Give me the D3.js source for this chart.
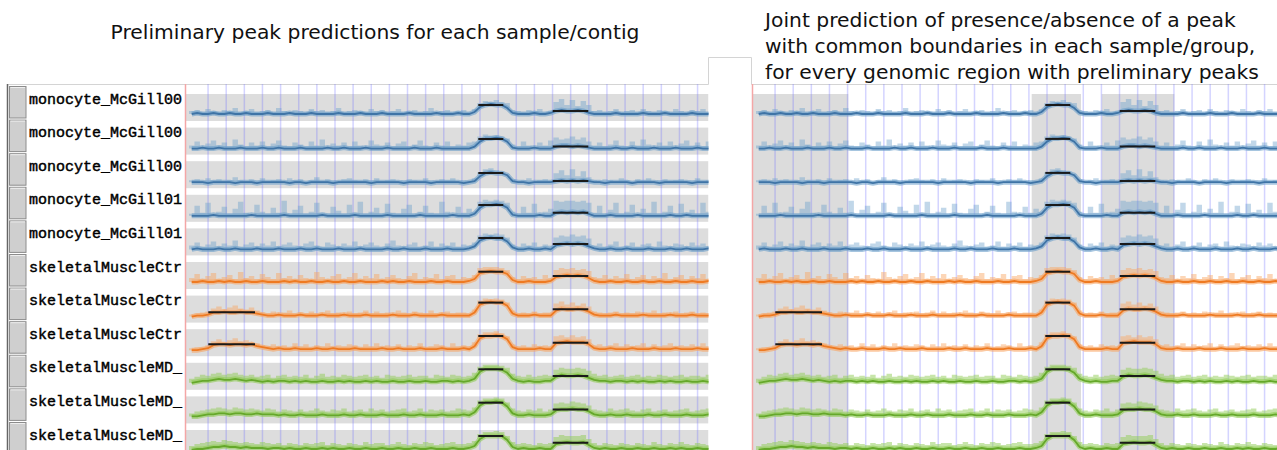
<!DOCTYPE html>
<html><head><meta charset="utf-8">
<script src="https://cdn.jsdelivr.net/npm/d3@7"></script>
<style>body{margin:0;background:#fff;} svg{display:block;}</style>
</head><body><svg id="c" width="1277" height="450"></svg>
<script>
// ---------------- data ----------------
const sampleLabels = ["monocyte_McGill00","monocyte_McGill00","monocyte_McGill00","monocyte_McGill01","monocyte_McGill01",
  "skeletalMuscleCtr","skeletalMuscleCtr","skeletalMuscleCtr","skeletalMuscleMD_","skeletalMuscleMD_","skeletalMuscleMD_"];
const sampleGroups = ["monocyte","monocyte","monocyte","monocyte","monocyte",
  "skeletalMuscleCtrl","skeletalMuscleCtrl","skeletalMuscleCtrl","skeletalMuscleMD","skeletalMuscleMD","skeletalMuscleMD"];
const binSizeBp = 300;

// coverage, mean (dark line) and max (light band) per 300 bp bin
const mean_mono1 = [3,4,3,3,4,3,3,4,3,3, 4,3,3,3,4,3,3,3,4,3, 3,3,4,3,3,3,3,4,3,3, 3,4,3,3,3,4,3,3,3,3, 4,3,3,3,3,4,3,3,3,4, 3,3,5,10,12,13,12,12,9,4, 3,3,3,4,3,3,4,6,7,6, 6,7,6,4,3,3,3,3,4,3, 3,3,3,4,3,3,3,4,3,3, 3,3,4,3,3,3,3];
const max_mono1  = [6,7,5,8,6,5,7,6,9,5, 6,8,5,6,7,5,9,6,5,7, 6,5,8,6,7,5,6,9,5,6, 7,6,5,8,6,7,5,6,8,5, 6,7,5,6,9,5,6,7,5,6, 7,5,8,14,16,15,17,15,14,7, 6,5,7,6,8,5,6,15,18,12, 17,11,16,12,6,7,5,6,8,5, 6,7,5,8,6,5,7,6,5,8, 6,5,7,6,8,5,6];
const mean_mono2 = [2,2,3,2,2,3,2,2,2,3, 2,2,2,3,2,2,3,2,2,2, 3,2,2,2,2,3,2,2,3,2, 2,2,3,2,2,2,3,2,2,2, 2,3,2,2,2,3,2,2,2,2, 2,2,4,9,12,12,13,12,9,3, 2,2,2,3,2,2,2,4,5,5, 4,5,4,3,2,2,2,2,3,2, 2,3,2,2,2,3,2,2,2,3, 2,2,2,3,2,2,2];
const max_mono2  = [5,9,4,7,10,5,8,4,11,6, 4,8,5,9,4,7,10,5,4,8, 6,4,9,5,11,4,7,5,8,4, 9,5,4,10,6,5,8,4,7,9, 4,6,10,5,4,8,5,9,4,6, 5,8,9,14,16,15,15,14,12,6, 4,9,5,4,8,5,10,13,11,12, 14,11,13,9,5,8,4,6,10,5, 4,9,5,11,6,4,8,5,9,4, 7,10,5,8,4,9,6];
const mean_mono3 = [2,2,2,1,2,2,2,2,1,2, 2,2,1,2,2,2,2,2,1,2, 2,1,2,2,2,2,1,2,2,2, 2,2,2,1,2,2,2,2,2,1, 2,2,2,2,1,2,2,2,2,2, 1,2,3,8,11,12,11,11,9,3, 2,2,1,2,2,2,2,3,4,3, 4,3,4,3,2,2,1,2,2,2, 2,1,2,2,2,2,1,2,2,2, 2,2,1,2,2,2,2];
const max_mono3  = [4,5,3,6,4,5,3,4,7,4, 3,5,4,6,3,4,5,3,6,4, 5,3,4,7,3,5,4,3,5,6, 4,3,5,4,6,3,4,5,3,4, 5,4,3,6,4,3,5,4,6,3, 4,3,6,12,15,16,14,13,10,5, 3,4,6,3,4,5,3,11,14,9, 15,8,13,7,4,3,5,4,3,6, 4,3,5,4,6,3,4,5,3,4, 5,3,4,6,3,4,5];
const mean_mono4 = [2,2,2,2,3,2,2,2,2,2, 2,3,2,2,2,2,2,3,2,2, 2,2,2,2,3,2,2,2,2,2, 3,2,2,2,2,2,3,2,2,2, 2,2,3,2,2,2,2,2,3,2, 2,2,4,10,13,13,14,13,10,3, 2,2,2,2,3,2,2,5,6,5, 6,5,6,4,2,2,2,3,2,2, 2,2,3,2,2,2,2,2,3,2, 2,3,2,2,2,2,2];
const max_mono4  = [4,12,5,15,4,6,11,4,9,16, 5,4,13,6,4,10,5,17,4,8, 12,4,6,15,5,4,11,7,4,13, 5,16,4,6,10,4,14,5,4,9, 13,4,6,12,5,4,16,6,4,11, 5,9,6,16,18,17,18,17,15,6, 4,11,5,14,4,6,9,17,16,17, 17,16,17,15,5,12,4,8,15,4, 6,13,4,9,5,16,4,6,12,4, 14,5,8,4,15,6,11];
const mean_mono5 = [2,3,2,2,2,3,2,2,3,2, 2,2,3,2,2,2,3,2,2,2, 3,2,2,3,2,2,2,3,2,2, 2,3,2,2,2,2,3,2,2,3, 2,2,2,3,2,2,2,3,2,2, 2,3,5,11,13,14,13,13,10,4, 2,2,3,2,2,3,2,6,7,8, 7,8,7,5,3,2,2,3,2,2, 3,2,2,2,3,2,2,2,3,2, 2,3,2,2,2,3,2];
const max_mono5  = [6,9,5,7,10,5,8,6,11,5, 7,9,5,8,6,10,5,7,9,6, 5,8,10,6,5,9,7,5,8,6, 10,5,7,9,6,5,8,11,6,5, 7,9,5,6,10,5,8,6,9,5, 7,6,9,16,18,17,18,17,14,7, 5,8,6,9,5,7,6,14,16,15, 17,15,16,13,6,8,5,7,10,5, 6,9,5,7,8,5,10,6,5,8, 7,5,9,6,8,5,7];
const mean_ctrl1 = [3,3,4,3,3,4,3,4,3,3, 4,3,3,4,3,3,3,4,3,4, 3,3,4,3,3,4,3,3,4,3, 3,4,3,3,3,4,3,4,3,3, 4,3,3,3,4,3,3,4,3,3, 3,4,6,12,13,14,13,13,11,5, 3,3,4,3,3,3,4,8,9,10, 9,10,9,7,4,3,3,4,3,3, 4,3,3,4,3,3,4,3,3,4, 3,3,4,3,3,4,3];
const max_ctrl1  = [7,11,6,9,12,6,8,10,6,13, 7,9,6,11,8,6,12,7,9,6, 10,7,6,13,8,6,9,11,6,8, 12,6,9,7,11,6,8,10,7,6, 9,12,6,8,7,11,6,9,10,6, 8,7,10,17,18,18,18,17,15,8, 6,9,7,8,6,10,7,15,17,16, 17,15,16,14,8,7,10,6,9,7, 11,6,8,10,6,9,7,12,6,8, 10,6,9,7,11,6,8];
const mean_ctrl2 = [2,3,3,4,6,6,7,6,6,7, 6,6,5,4,3,3,4,3,3,3, 4,3,3,3,4,3,3,3,4,3, 3,3,4,3,3,3,3,4,3,3, 3,4,3,3,3,3,4,3,3,3, 3,3,6,14,16,17,16,16,13,5, 3,3,3,4,3,3,3,8,10,9, 9,10,9,7,4,3,3,3,4,3, 3,3,3,4,3,3,3,3,4,3, 3,3,4,3,3,3,3];
const max_ctrl2  = [4,5,6,7,10,12,9,11,13,10, 9,11,8,6,5,7,5,6,8,5, 6,5,7,5,6,8,5,6,5,7, 5,6,8,5,7,5,6,5,8,6, 5,7,6,5,8,5,6,7,5,6, 6,5,9,18,20,19,20,19,16,8, 5,6,5,7,5,6,6,15,17,14, 16,13,15,12,7,6,5,6,7,5, 6,5,7,5,6,8,5,6,5,7, 5,6,7,5,6,5,7];
const mean_ctrl3 = [2,2,3,4,7,8,8,7,8,8, 7,8,6,5,4,3,4,3,3,4, 3,3,3,4,3,3,4,3,3,3, 4,3,3,3,3,4,3,3,4,3, 3,3,4,3,3,3,4,3,3,3, 4,3,6,14,16,16,17,16,13,5, 3,3,3,3,4,3,3,9,10,11, 10,10,10,8,4,3,3,4,3,3, 3,4,3,3,3,4,3,3,3,4, 3,3,3,4,3,3,3];
const max_ctrl3  = [4,5,5,7,11,13,10,12,14,11, 12,10,9,7,6,8,6,7,5,9, 6,8,5,7,6,9,5,7,6,8, 7,5,8,6,9,5,7,6,8,5, 7,6,9,5,6,8,7,5,9,6, 7,6,10,18,20,20,21,19,16,8, 6,7,5,8,6,7,6,16,17,15, 17,15,16,13,7,8,6,7,9,6, 8,6,7,9,5,8,6,7,9,6, 7,6,8,5,9,6,7];
const mean_md1 = [3,4,5,5,6,7,6,6,7,6, 5,6,5,4,5,4,5,5,4,5, 4,5,4,4,5,4,4,5,4,5, 4,4,5,4,5,4,4,5,4,4, 5,4,4,5,4,4,5,5,4,5, 4,5,7,14,17,17,17,16,13,7, 5,4,5,4,4,5,5,9,11,10, 10,11,10,8,6,5,5,4,5,5, 4,5,4,5,4,4,5,4,5,4, 4,5,4,4,5,4,4];
const max_md1  = [7,9,11,10,12,13,11,12,13,11, 10,11,9,10,11,8,10,11,9,10, 9,11,8,10,12,9,10,9,11,10, 9,10,11,9,10,8,11,10,9,10, 11,9,10,10,8,11,10,9,11,10, 9,10,13,19,21,21,21,20,18,12, 10,9,11,9,10,11,10,16,18,17, 17,18,17,15,12,10,11,9,10,11, 9,10,11,9,10,9,11,10,9,10, 11,9,10,10,9,11,10];
const mean_md2 = [3,3,4,5,5,6,6,5,6,6, 5,5,6,5,5,5,4,5,4,4, 5,4,4,4,5,4,4,4,5,4, 4,5,4,4,4,5,4,4,4,5, 4,4,5,4,4,4,5,4,4,4, 5,4,7,14,17,17,18,17,13,6, 4,4,5,4,4,4,5,9,10,10, 11,10,10,8,5,4,4,5,4,4, 5,4,4,4,5,4,4,5,4,4, 4,5,4,4,4,5,4];
const max_md2  = [6,8,9,10,11,12,11,10,12,11, 10,11,10,9,11,10,8,10,9,8, 10,8,9,11,9,8,10,9,11,8, 9,10,8,11,9,10,8,9,10,11, 8,9,11,8,10,9,10,8,9,11, 10,9,12,19,21,21,22,21,17,11, 9,8,10,9,11,8,10,16,17,16, 18,17,16,14,10,9,8,11,9,10, 11,9,8,10,11,8,9,10,8,9, 10,11,8,9,10,11,9];
const mean_md3 = [3,4,4,5,6,6,7,6,6,5, 6,5,5,5,4,5,5,4,5,4, 4,5,4,4,5,4,5,4,4,5, 4,4,5,4,4,5,4,4,5,4, 4,5,4,4,5,4,4,4,5,4, 4,5,7,14,17,17,17,17,13,6, 4,5,4,4,5,4,4,9,10,11, 10,10,11,8,5,4,5,4,4,5, 4,4,5,4,4,5,4,4,5,4, 5,4,4,5,4,4,5];
const max_md3  = [7,9,10,11,12,11,13,12,11,10, 11,10,9,11,10,9,10,8,10,9, 8,10,9,10,11,8,10,9,8,10, 9,8,11,9,10,10,8,9,11,9, 8,10,9,11,10,8,9,10,11,9, 9,10,12,19,21,21,22,21,17,11, 9,10,9,8,10,9,10,16,18,17, 17,17,18,14,10,8,10,9,8,10, 9,8,10,9,8,11,9,8,10,9, 11,9,8,10,9,8,10];

const meanSeries = [mean_mono1,mean_mono2,mean_mono3,mean_mono4,mean_mono5,mean_ctrl1,mean_ctrl2,mean_ctrl3,mean_md1,mean_md2,mean_md3];
const maxSeries  = [max_mono1,max_mono2,max_mono3,max_mono4,max_mono5,max_ctrl1,max_ctrl2,max_ctrl3,max_md1,max_md2,max_md3];

// peak segments (bp) and their mean levels per sample
const peakStartsBp = [1230, 16122, 20226];
const peakEndsBp   = [3806, 17501, 22190];
const peakLevelA = [null,null,null,null,null,null,6.3,8,null,null,null];
const peakLevelB = [12,11.7,11.3,12.8,13.4,13.3,16,16.2,16.5,16.7,17];
const peakLevelC = [6,4,3.3,5,7.4,9,9.3,9.5,9.8,10,10.3];
// joint regions (right panel shading)
const jointStartsBp = [0, 15372, 19233];
const jointEndsBp   = [5256, 18091, 23238];

const titleLeft = "Preliminary peak predictions for each sample/contig";
const titleRight = ["Joint prediction of presence/absence of a peak","with common boundaries in each sample/group,","for every genomic region with preliminary peaks"];

// ---------------- drawing ----------------
const svg = d3.select("#c");
const colors = {
  monocyte: {dark:"#3f74a6", light:"#6b9fca", op:0.42},
  skeletalMuscleCtrl: {dark:"#ee7a22", light:"#f8a460", op:0.45},
  skeletalMuscleMD: {dark:"#65a82a", light:"#8fcb55", op:0.5}
};
const nBins = mean_mono1.length;
const domainEnd = nBins * binSizeBp;
const pxPerBp = 18.13/1000;
const x = d3.scaleLinear().domain([0, domainEnd]).range([0, domainEnd*pxPerBp]);
const rowTop = d3.scaleLinear().domain([0, 11]).range([94, 94 + 33.6*11]);
const rowBgH = 27;
const yv = d3.scaleLinear().domain([0, 23]).range([23, 0]);
const gridBp = d3.range(1190, domainEnd, 1000);

const defs = svg.append("defs");
function clip(id, x0, x1) {
  defs.append("clipPath").attr("id", id).append("rect").attr("x", x0).attr("y", 84).attr("width", x1 - x0).attr("height", 400);
}
clip("cl", 186, 708.5); clip("cr", 753, 1277);
defs.append("clipPath").attr("id","lab").append("rect").attr("x",0).attr("y",84).attr("width",185.5).attr("height",400);

// titles
svg.append("text").attr("x", 375).attr("y", 39).attr("text-anchor","middle")
  .attr("font-family","DejaVu Sans").attr("font-size",20.3).attr("fill","#111").text(titleLeft);
svg.selectAll("text.tr").data(titleRight).join("text").attr("class","tr")
  .attr("x", 765).attr("y",(d,i)=>27+i*26).attr("font-family","DejaVu Sans").attr("font-size",20.3).attr("fill","#111").text(d=>d);

// frame lines
svg.append("path").attr("d","M8,84.5H708.5V57.5H751.5V84.5H1277").attr("fill","none").attr("stroke","#d4d4d4").attr("stroke-width",1);
svg.append("line").attr("x1",7.5).attr("x2",7.5).attr("y1",84).attr("y2",450).attr("stroke","#666").attr("stroke-width",1.5);

// buttons and labels
const lab = svg.append("g").attr("clip-path","url(#lab)");
sampleLabels.forEach((name, i) => {
  const t = rowTop(i);
  lab.append("rect").attr("x",9.5).attr("y",t-7.5).attr("width",16.5).attr("height",31.5)
    .attr("fill","#cfcfcf").attr("stroke","#8c8c8c").attr("stroke-width",1);
  lab.append("line").attr("x1",10.5).attr("x2",25).attr("y1",t-6.5).attr("y2",t-6.5).attr("stroke","#eee");
  lab.append("text").attr("x",29).attr("y",t+9.5).attr("font-family","Liberation Mono")
    .attr("font-size",15).attr("fill","#000").attr("stroke","#000").attr("stroke-width",0.45).text(name);
});

function drawPanel(x0, x1, clipId, leftPanel) {
  const g = svg.append("g").attr("clip-path", `url(#${clipId})`);
  const px = bp => x0 + x(bp);
  if (leftPanel) {
    sampleLabels.forEach((s,i) => {
      g.append("rect").attr("x", x0).attr("y", rowTop(i)).attr("width", x1 - x0).attr("height", rowBgH).attr("fill","#dddddd");
    });
  } else {
    jointStartsBp.forEach((s,k) => {
      g.append("rect").attr("x", px(s)).attr("y", 94).attr("width", x(jointEndsBp[k]) - x(s)).attr("height", 360)
        .attr("fill","#dcdcdc");
    });
  }
  // grid lines
  g.selectAll("line.grid").data(gridBp).join("line").attr("class","grid")
    .attr("x1", d=>px(d)+0.5).attr("x2", d=>px(d)+0.5).attr("y1",84).attr("y2",450)
    .attr("stroke","#6f6fff").attr("stroke-opacity",0.3).attr("stroke-width",1.5);
  // tracks
  meanSeries.forEach((m, i) => {
    const hi = maxSeries[i];
    const t = rowTop(i);
    const c = colors[sampleGroups[i]];
    const pts = m.map((v,k)=>({pos:k*binSizeBp, lo:v, hi:Math.max(v, hi[k])}));
    pts.push({pos:domainEnd, lo:m[m.length-1], hi:hi[hi.length-1]});
    const area = d3.area().x(d=>px(d.pos)+3).y0(d=>t+yv(d.lo)).y1(d=>t+yv(d.hi)).curve(d3.curveStepAfter);
    const line = d3.line().x(d=>px(d.pos)+3).y(d=>t+yv(d.lo)).curve(d3.curveLinear);
    const linePts = m.map((v,k)=>({pos:k*binSizeBp+binSizeBp/2, lo:v}));
    g.append("path").attr("d", area(pts)).attr("fill", c.light).attr("fill-opacity", c.op);
    g.append("path").attr("d", line(linePts)).attr("fill","none").attr("stroke", c.light).attr("stroke-opacity",0.6).attr("stroke-width",5);
    g.append("path").attr("d", line(linePts)).attr("fill","none").attr("stroke", c.dark).attr("stroke-width",1.8);
    // peak segments
    [peakLevelA, peakLevelB, peakLevelC].forEach((lv, k) => {
      if (lv[i] == null) return;
      g.append("line").attr("x1", px(peakStartsBp[k])).attr("x2", px(peakEndsBp[k]))
        .attr("y1", t + yv(lv[i])).attr("y2", t + yv(lv[i])).attr("stroke","#1a1a1a").attr("stroke-width",2);
    });
  });
  // red origin line
  svg.append("line").attr("x1", x0 - 0.5).attr("x2", x0 - 0.5).attr("y1", 84).attr("y2", 450)
    .attr("stroke","#f4a6a6").attr("stroke-width",1.5);
}
drawPanel(186, 708.5, "cl", true);
drawPanel(753, 1277, "cr", false);
</script></body></html>
